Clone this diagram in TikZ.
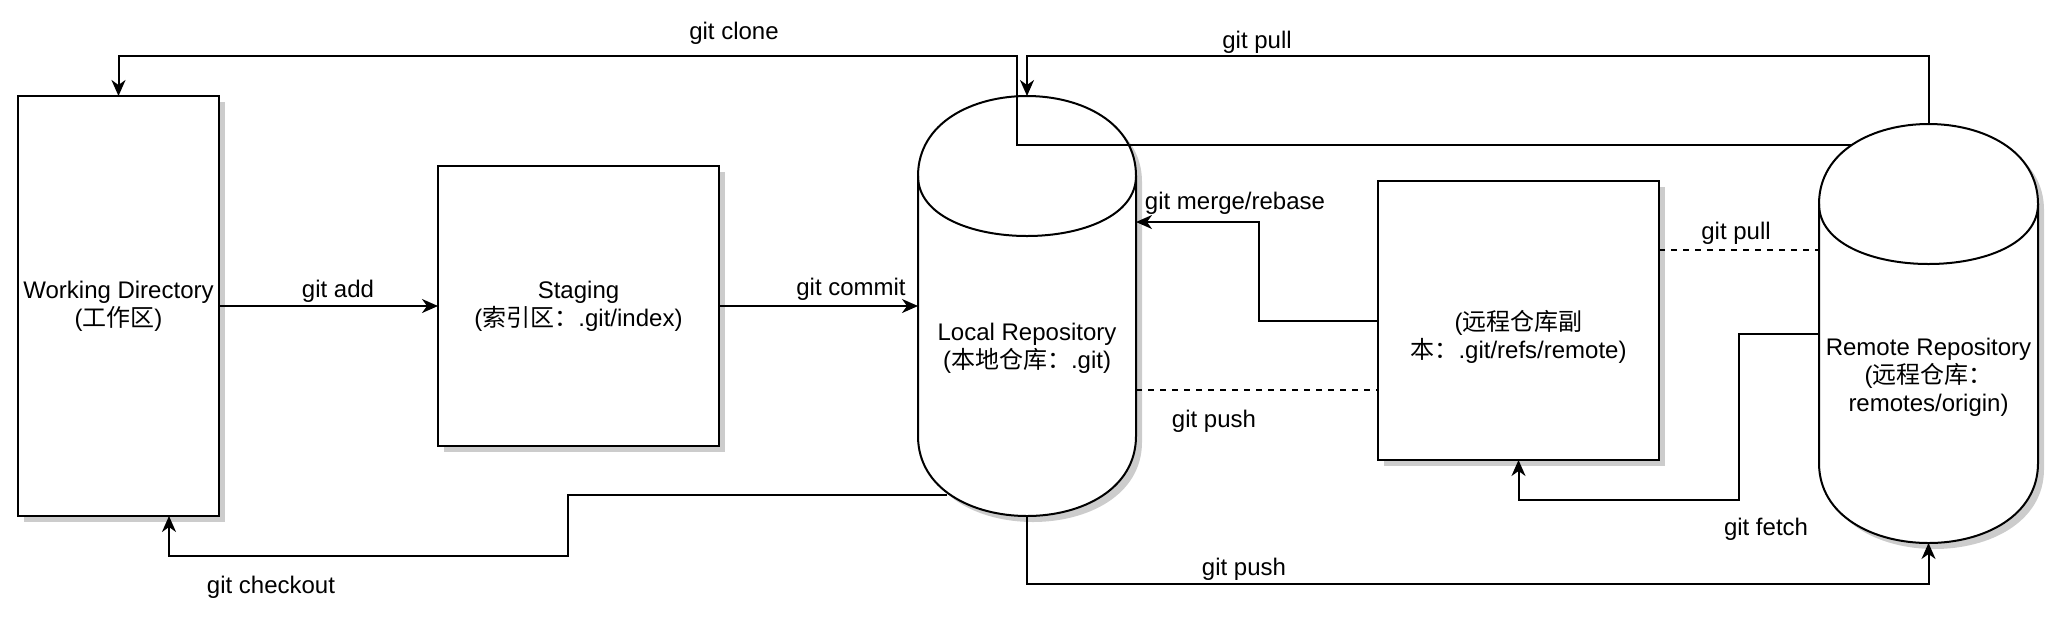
\documentclass[tikz,border=0pt]{standalone}
\usepackage{fontspec}
\setmainfont{Liberation Sans}
\newfontfamily\cjk{Noto Sans CJK SC}
\newcommand\zh[1]{{\cjk #1}}
\usetikzlibrary{arrows.meta,shadows}
\tikzset{
  fnt/.style={font=\fontsize{12}{14}\selectfont},
  box/.style={draw, line width=1pt, fill=white, inner sep=0pt, outer sep=0pt, align=center, fnt,
    general shadow={fill=black!20, shadow xshift=3pt, shadow yshift=-3pt}},
  holder/.style={inner sep=0pt, outer sep=0pt},
  conn/.style={line width=1pt, -{Stealth[length=8pt,width=7pt,inset=2.5pt]}},
  dashconn/.style={line width=1pt, dash pattern=on 3pt off 3pt},
  lbl/.style={fnt, inner sep=0pt},
  txt/.style={fnt, align=center, inner sep=0pt},
}
% cylinder in the style of draw.io: left, right, top, bottom (px); cap depth dy=80
\newcommand\cylpath[4]{(#1,#3+80) .. controls (#1,#3-26.67) and (#2,#3-26.67) .. (#2,#3+80)
  -- (#2,#4-80) .. controls (#2,#4+26.67) and (#1,#4+26.67) .. (#1,#4-80) -- cycle}
\newcommand\mycyl[4]{%
  \begin{scope}[shift={(6,6)}]
    \fill[black!20] \cylpath{#1}{#2}{#3}{#4};
  \end{scope}
  \filldraw[fill=white, line width=1pt] \cylpath{#1}{#2}{#3}{#4};
  \draw[line width=1pt] (#1,#3+80) .. controls (#1,#3+160) and (#2,#3+160) .. (#2,#3+80);
}
\begin{document}
\begin{tikzpicture}[x=0.5pt,y=-0.5pt]
\useasboundingbox (0,0) rectangle (2059,617);

% boxes
\node[box, minimum width=100.5pt, minimum height=210pt] (wd) at (118.5,306) {Working Directory\\(\zh{工作区})};
\node[box, minimum width=140.5pt, minimum height=140pt] (staging) at (578.5,306) {Staging\\(\zh{索引区：}.git/index)};
\node[box, minimum width=140.5pt, minimum height=139.5pt] (rc) at (1518.5,320.5) {};
\node[txt] (rctxt) at (1518.5,337) {(\zh{远程仓库副}\\\zh{本：}.git/refs/remote)};

% cylinders
\node[holder, minimum width=109pt, minimum height=210pt] (local) at (1027,306) {};
\mycyl{918}{1136}{96}{516}
\node[txt] (localtxt) at (1027,348) {Local Repository\\(\zh{本地仓库：}.git)};

\node[holder, minimum width=109.5pt, minimum height=209.5pt] (remote) at (1928.5,333.5) {};
\mycyl{1819}{2038}{124}{543}
\node[txt] (remotetxt) at (1928.5,377) {Remote Repository\\(\zh{远程仓库：}\\remotes/origin)};

% connectors
\coordinate (rclone) at (1851,145);
\draw[conn] (rclone) -- (1017,145) -- (1017,56) -| (wd.north);
\draw[conn] (remote.north) -- (1928.5,56) -| (local.north);
\draw[conn] (wd.east) -- (staging.west);
\draw[conn] (staging.east) -- (local.west);
\coordinate (lco) at (947,495);
\draw[conn] (lco) -- (568,495) -- (568,556) -| ([xshift=25.25pt]wd.south);
\draw[conn] (local.south) -- (1027,584) -| (remote.south);
\draw[conn] (rc.west) -- (1259,320.5) |- ([yshift=42pt]local.east);
\draw[dashconn] ([yshift=-42pt]local.east) -- ([yshift=-42pt]local.east -| rc.west);
\draw[dashconn] ([yshift=35.25pt]rc.east) -- ([yshift=35.25pt]rc.east -| remote.west);
\draw[conn] (remote.west) -- (1739,333.5) -- (1739,500) -| (rc.south);

% labels
\node[lbl] (lclone) at (734,33) {git clone};
\node[lbl] (lpull1) at (1257,42) {git pull};
\node[lbl] (ladd) at (338,291) {git add};
\node[lbl] (lcommit) at (851,289) {git commit};
\node[lbl] (lmerge) at (1235,203) {git merge/rebase};
\node[lbl] (lpull2) at (1736,233) {git pull};
\node[lbl] (lpush1) at (1214,421) {git push};
\node[lbl] (lfetch) at (1766,529) {git fetch};
\node[lbl] (lpush2) at (1244,569) {git push};
\node[lbl] (lcheckout) at (271,587) {git checkout};
\end{tikzpicture}
\end{document}
